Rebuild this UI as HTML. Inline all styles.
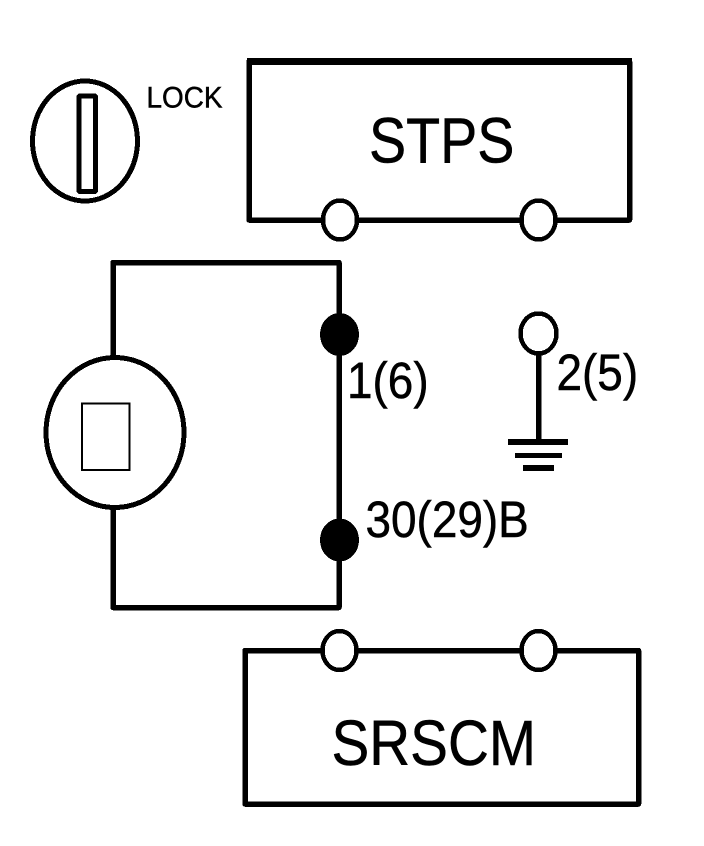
<!DOCTYPE html>
<html>
<head>
<meta charset="utf-8">
<style>
html,body{margin:0;padding:0;background:#fff;width:704px;height:846px;overflow:hidden}
svg{display:block}
text{font-family:"Liberation Sans",Arial,sans-serif;fill:#000;stroke:#000;stroke-width:.5}
.s{fill:none;stroke:#000;stroke-linejoin:round;shape-rendering:crispEdges}
.w{fill:#fff;stroke:#000;shape-rendering:crispEdges}
.k{fill:#000;shape-rendering:crispEdges}
</style>
</head>
<body>
<svg width="704" height="846" viewBox="0 0 704 846" xmlns="http://www.w3.org/2000/svg">
<rect width="704" height="846" fill="#fff"/>

<!-- Lock symbol -->
<ellipse class="w" cx="85" cy="141" rx="52.5" ry="60" stroke-width="5"/>
<rect class="s" x="79" y="96" width="16.5" height="95.5" rx="1" stroke-width="5"/>
<text transform="translate(146.5,107.5) scale(0.93,1)" font-size="30">LOCK</text>

<!-- STPS -->
<path class="s" d="M249 220V61.5H629.5V220Z" stroke-width="5.5"/>
<rect class="k" x="247" y="58" width="385" height="7"/>
<ellipse class="w" cx="340" cy="220" rx="17" ry="19.5" stroke-width="4.5"/>
<ellipse class="w" cx="538.5" cy="220" rx="17" ry="19.5" stroke-width="4.5"/>
<text transform="translate(369,162.5) scale(0.87,1)" font-size="64">STPS</text>

<!-- Left loop -->
<path class="s" d="M113 607.5V262.5H339V607.5Z" stroke-width="5.5"/>
<ellipse class="w" cx="115" cy="432.5" rx="69" ry="75" stroke-width="5"/>
<rect x="82" y="403.5" width="47.5" height="66.5" fill="#fff" stroke="#000" stroke-width="2" shape-rendering="crispEdges"/>
<ellipse class="k" cx="339.5" cy="334.5" rx="19.5" ry="21.5"/>
<ellipse class="k" cx="339.5" cy="540" rx="19.5" ry="21.5"/>
<text transform="translate(347,398) scale(0.9,1)" font-size="51">1(6)</text>
<text transform="translate(365.5,537) scale(0.9,1)" font-size="51">30(29)B</text>

<!-- Ground terminal -->
<rect class="k" x="536" y="352" width="5.5" height="90"/>
<ellipse class="w" cx="538.5" cy="333.5" rx="18" ry="20" stroke-width="4.5"/>
<rect class="k" x="508" y="439" width="60" height="6"/>
<rect class="k" x="515" y="453" width="47" height="5"/>
<rect class="k" x="523" y="465" width="31" height="6"/>
<text transform="translate(556.5,390) scale(0.9,1)" font-size="51">2(5)</text>

<!-- SRSCM -->
<path class="s" d="M245 650.5H638.5V804H245Z" stroke-width="5.5"/>
<ellipse class="w" cx="339.5" cy="650.5" rx="17" ry="19.5" stroke-width="4.5"/>
<ellipse class="w" cx="538.5" cy="650.5" rx="17" ry="19.5" stroke-width="4.5"/>
<text transform="translate(331.5,765) scale(0.885,1)" font-size="64">SRSCM</text>
</svg>
</body>
</html>
